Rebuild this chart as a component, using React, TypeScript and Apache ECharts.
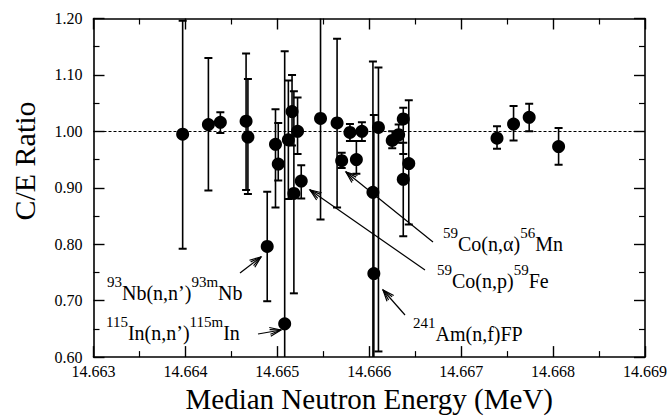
import React, { useEffect, useRef } from 'react';
import * as echarts from 'echarts';

// Median neutron energy (MeV) of each reaction
const energy = [
  14.66397, 14.66425, 14.66438, 14.66466, 14.66468, 14.66489, 14.66498, 14.66501,
  14.66508, 14.66512, 14.66516, 14.66518, 14.66522, 14.66526, 14.66547, 14.66565,
  14.6657, 14.66579, 14.66586, 14.66592, 14.66604, 14.66605, 14.6661, 14.66625,
  14.66632, 14.66637, 14.66637, 14.66643, 14.66739, 14.66757, 14.66774, 14.66806,
];
// C/E ratio
const ratio = [
  0.995, 1.012, 1.016, 1.018, 0.99, 0.796, 0.977, 0.942,
  0.659, 0.985, 1.035, 0.89, 1.0, 0.912, 1.023, 1.015,
  0.948, 0.998, 0.95, 1.0, 0.892, 0.748, 1.007, 0.984,
  0.994, 1.022, 0.915, 0.943, 0.988, 1.013, 1.025, 0.973,
];
// error bar lower / upper ends
const lower = [
  0.792, 0.895, 0.997, 0.896, 0.889, 0.699, 0.865, 0.913,
  0.58, 0.88, 0.975, 0.713, 0.96, 0.881, 0.844, 0.865,
  0.935, 0.983, 0.925, 0.983, 0.58, 0.58, 0.61, 0.97,
  0.98, 0.96, 0.814, 0.835, 0.969, 0.984, 1.0, 0.941,
];
const upper = [
  1.196, 1.13, 1.034, 1.138, 1.093, 0.893, 1.039, 1.015,
  1.142, 1.09, 1.1, 1.071, 1.06, 0.94, 1.25, 1.164,
  0.962, 1.013, 0.983, 1.016, 1.124, 1.029, 1.113, 1.0,
  1.012, 1.042, 0.98, 1.055, 1.009, 1.045, 1.049, 1.006,
];

const xMin = 14.663;
const xMax = 14.669;
const xStep = 0.001;
const yMin = 0.6;
const yMax = 1.2;
const yStep = 0.1;
const referenceRatio = 1.0;

const xTitle = 'Median Neutron Energy (MeV)';
const yTitle = 'C/E Ratio';

// reaction labels: [text, superscript?] pieces
const annotationPieces: [string, boolean][][] = [
  [['93', true], ['Nb(n,n’)', false], ['93m', true], ['Nb', false]],
  [['115', true], ['In(n,n’)', false], ['115m', true], ['In', false]],
  [['59', true], ['Co(n,α)', false], ['56', true], ['Mn', false]],
  [['59', true], ['Co(n,p)', false], ['59', true], ['Fe', false]],
  [['241', true], ['Am(n,f)FP', false]],
];

const FONT = 'Liberation Serif';
const MAIN_SIZE = 20;
const SUP_SIZE = 15;

function arrow(x1: number, y1: number, x2: number, y2: number) {
  const ang = Math.atan2(y2 - y1, x2 - x1);
  const len = 12;
  const spread = 0.38;
  const wing = (a: number, l: number) => [x2 - l * Math.cos(ang + a), y2 - l * Math.sin(ang + a)];
  const s = { stroke: '#000', lineWidth: 1.2, fill: null };
  return [
    { type: 'line', shape: { x1, y1, x2, y2 }, style: s, silent: true },
    { type: 'polyline', shape: { points: [wing(spread, len), [x2, y2], wing(-spread, len)] }, style: s, silent: true },
    { type: 'polyline', shape: { points: [wing(spread * 0.55, len * 0.95), [x2, y2], wing(-spread * 0.55, len * 0.95)] }, style: s, silent: true },
  ];
}

export default function App() {
  const ref = useRef<HTMLDivElement>(null);
  useEffect(() => {
    document.body.style.margin = '0';
    const chart = echarts.init(ref.current!, null, { renderer: 'svg' });

    const ctx = document.createElement('canvas').getContext('2d')!;
    const measure = (t: string, size: number) => {
      ctx.font = `${size}px "${FONT}"`;
      return ctx.measureText(t).width;
    };

    // left x, centre y of the main (non-superscript) text
    const labelPos = [
      [107, 293],
      [106, 333],
      [443, 244],
      [437, 281],
      [413, 334],
    ];
    const arrowPos = [
      [240, 273, 261, 257],
      [258, 334, 281, 330],
      [433, 242, 346, 172],
      [425, 270, 310, 190],
      [405, 315, 383, 290],
    ];

    const graphics: any[] = [];
    annotationPieces.forEach((pieces, i) => {
      let x = labelPos[i][0];
      const yc = labelPos[i][1];
      pieces.forEach(([t, sup]) => {
        const size = sup ? SUP_SIZE : MAIN_SIZE;
        graphics.push({
          type: 'text',
          x,
          y: sup ? yc - 11 : yc,
          silent: true,
          style: { text: t, font: `${size}px "${FONT}"`, fill: '#000', align: 'left', verticalAlign: 'middle' },
        });
        x += measure(t, size);
      });
    });
    arrowPos.forEach((a) => graphics.push(...arrow(a[0], a[1], a[2], a[3])));
    graphics.push({
      type: 'text',
      x: 24,
      y: 161,
      rotation: Math.PI / 2,
      silent: true,
      style: { text: yTitle, font: `30px "${FONT}"`, fill: '#000', align: 'center', verticalAlign: 'middle' },
    });

    const axisLine = { show: true, lineStyle: { color: '#000', width: 1.6 } };
    const axisTick = { show: true, inside: true, length: 11, lineStyle: { color: '#000', width: 1.4 } };
    const minorTick = { show: true, splitNumber: 2, length: 6, lineStyle: { color: '#000', width: 1.2 } };

    chart.setOption({
      animation: false,
      grid: { left: 93.5, right: 19, top: 18.5, bottom: 56 },
      xAxis: [
        {
          type: 'value', min: xMin, max: xMax, interval: xStep, position: 'bottom',
          axisLine, axisTick, minorTick, splitLine: { show: false },
          axisLabel: { color: '#000', fontSize: 16, fontFamily: FONT, margin: 6, formatter: (v: number) => v.toFixed(3) },
          name: xTitle, nameLocation: 'middle', nameGap: 22,
          nameTextStyle: { color: '#000', fontSize: 29, fontFamily: FONT },
        },
        {
          type: 'value', min: xMin, max: xMax, interval: xStep, position: 'top',
          axisLine, axisTick, minorTick, splitLine: { show: false }, axisLabel: { show: false },
        },
      ],
      yAxis: [
        {
          type: 'value', min: yMin, max: yMax, interval: yStep, position: 'left',
          axisLine, axisTick, minorTick, splitLine: { show: false },
          axisLabel: { color: '#000', fontSize: 16, fontFamily: FONT, margin: 11, formatter: (v: number) => v.toFixed(2) },
        },
        {
          type: 'value', min: yMin, max: yMax, interval: yStep, position: 'right',
          axisLine, axisTick, minorTick, splitLine: { show: false }, axisLabel: { show: false },
        },
      ],
      graphic: graphics,
      series: [
        {
          type: 'custom',
          clip: true,
          silent: true,
          data: energy.map((e, i) => [e, lower[i], upper[i]]),
          encode: { x: 0, y: [1, 2] },
          renderItem: (params: any, api: any) => {
            const x = api.value(0);
            const lo = api.coord([x, api.value(1)]);
            const hi = api.coord([x, api.value(2)]);
            const hw = 4;
            const st = { stroke: '#000', lineWidth: 1.6 };
            const cap = { stroke: '#000', lineWidth: 2 };
            return {
              type: 'group',
              children: [
                { type: 'line', shape: { x1: lo[0], y1: lo[1], x2: hi[0], y2: hi[1] }, style: st },
                { type: 'line', shape: { x1: hi[0] - hw, y1: hi[1], x2: hi[0] + hw, y2: hi[1] }, style: cap },
                { type: 'line', shape: { x1: lo[0] - hw, y1: lo[1], x2: lo[0] + hw, y2: lo[1] }, style: cap },
              ],
            };
          },
          z: 2,
        },
        {
          type: 'scatter',
          symbol: 'circle',
          symbolSize: 13,
          itemStyle: { color: '#000', opacity: 1 },
          data: energy.map((e, i) => [e, ratio[i]]),
          z: 3,
          markLine: {
            silent: true,
            symbol: 'none',
            label: { show: false },
            lineStyle: { type: [3, 2], color: '#000', width: 1, opacity: 1 },
            data: [{ yAxis: referenceRatio }],
          },
        },
      ],
    });
    return () => chart.dispose();
  }, []);
  return <div ref={ref} style={{ width: 670, height: 418 }} />;
}
